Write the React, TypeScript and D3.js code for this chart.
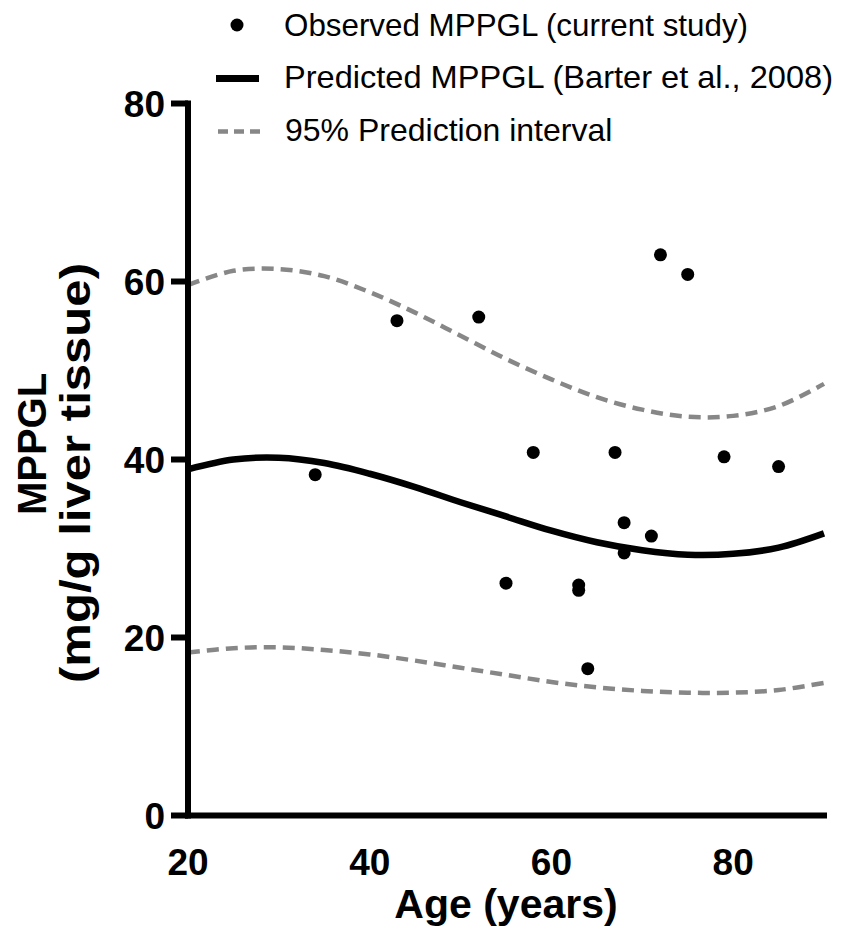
import React from "react";
import * as d3 from "d3";

const obsAge = [34, 43, 52, 58, 67, 79, 72, 75, 68, 71, 68, 55, 63, 63, 64, 85];
const obsMPPGL = [38.3, 55.6, 56.0, 40.8, 40.8, 40.3, 63.0, 60.8, 32.9, 31.4, 29.5, 26.1, 25.9, 25.3, 16.5, 39.2];

const curveAge = [20, 25, 30, 35, 40, 45, 50, 55, 60, 65, 70, 75, 80, 85, 90];
const predicted = [38.9, 40.0, 40.2, 39.6, 38.4, 36.9, 35.2, 33.6, 32.0, 30.7, 29.8, 29.3, 29.4, 30.1, 31.7];
const upperPI = [59.6, 61.2, 61.4, 60.6, 58.8, 56.5, 53.9, 51.3, 49.0, 47.0, 45.6, 44.8, 44.9, 46.0, 48.5];
const lowerPI = [18.3, 18.8, 18.9, 18.6, 18.1, 17.4, 16.6, 15.8, 15.0, 14.4, 14.0, 13.8, 13.8, 14.1, 14.9];

const xTicks = [20, 40, 60, 80];
const yTicks = [0, 20, 40, 60, 80];
const legendLabels = [
  "Observed MPPGL (current study)",
  "Predicted MPPGL (Barter et al., 2008)",
  "95% Prediction interval",
];

const FONT = "'Liberation Sans', Arial, Helvetica, sans-serif";

export default function App() {
  const x = d3.scaleLinear().domain([20, 90]).range([188, 824]);
  const y = d3.scaleLinear().domain([0, 80]).range([815.5, 103.5]);

  const mk = (vals: number[]) =>
    d3
      .line<number>()
      .x((_, i) => x(curveAge[i]))
      .y((v) => y(v))
      .curve(d3.curveCatmullRom.alpha(0.5))(vals) || "";

  const gray = "#878787";

  return (
    <svg width={849} height={933} style={{ position: "absolute", left: 0, top: 0, background: "#fff" }}>
      <defs>
        <clipPath id="plot">
          <rect x={x(20)} y={y(80) - 5} width={x(90) - x(20) + 4} height={y(0) - y(80) + 5} />
        </clipPath>
      </defs>

      {/* Legend */}
      <g fontFamily={FONT} fontSize={32} fill="#000">
        <circle cx={237} cy={25} r={6.5} fill="#000" />
        <line x1={216} x2={259} y1={78.5} y2={78.5} stroke="#000" strokeWidth={7} />
        <line x1={218} x2={262} y1={131.5} y2={131.5} stroke={gray} strokeWidth={4.5} strokeDasharray="10 6" />
        <text x={284} y={36} textLength={464} lengthAdjust="spacingAndGlyphs">{legendLabels[0]}</text>
        <text x={284} y={88} textLength={549} lengthAdjust="spacingAndGlyphs">{legendLabels[1]}</text>
        <text x={285} y={141}>{legendLabels[2]}</text>
      </g>

      {/* Curves */}
      <g clipPath="url(#plot)" fill="none">
        <path d={mk(upperPI)} stroke={gray} strokeWidth={4.5} strokeDasharray="12 7" />
        <path d={mk(lowerPI)} stroke={gray} strokeWidth={4.5} strokeDasharray="12 7" />
        <path d={mk(predicted)} stroke="#000" strokeWidth={6.5} />
      </g>

      {/* Points */}
      <g>
        {obsAge.map((a, i) => (
          <circle key={i} cx={x(a)} cy={y(obsMPPGL[i])} r={6.5} fill="#000" />
        ))}
      </g>

      {/* Axes */}
      <g stroke="#000" strokeWidth={6}>
        <line x1={x(20)} x2={x(20)} y1={y(80) - 3} y2={y(0) + 3} />
        <line x1={x(20) - 3} x2={x(90) + 3} y1={y(0)} y2={y(0)} />
        {yTicks.map((t) => (
          <line key={t} x1={171} x2={x(20)} y1={y(t)} y2={y(t)} />
        ))}
      </g>

      <g fontFamily={FONT} fontWeight="bold" fontSize={37} fill="#000">
        {yTicks.map((t) => (
          <text key={t} x={165} y={y(t)} dy="0.36em" textAnchor="end">
            {t}
          </text>
        ))}
        {xTicks.map((t) => (
          <text key={t} x={x(t)} y={875} textAnchor="middle">
            {t}
          </text>
        ))}
      </g>

      <g fontFamily={FONT} fontWeight="bold" fill="#000">
        <text x={506} y={918} textAnchor="middle" fontSize={41}>
          Age (years)
        </text>
        <text transform="translate(46,444) rotate(-90)" textAnchor="middle" fontSize={40}>
          MPPGL
        </text>
        <text transform="translate(90,473) rotate(-90)" textAnchor="middle" fontSize={43} textLength={420} lengthAdjust="spacingAndGlyphs">
          (mg/g liver tissue)
        </text>
      </g>
    </svg>
  );
}
